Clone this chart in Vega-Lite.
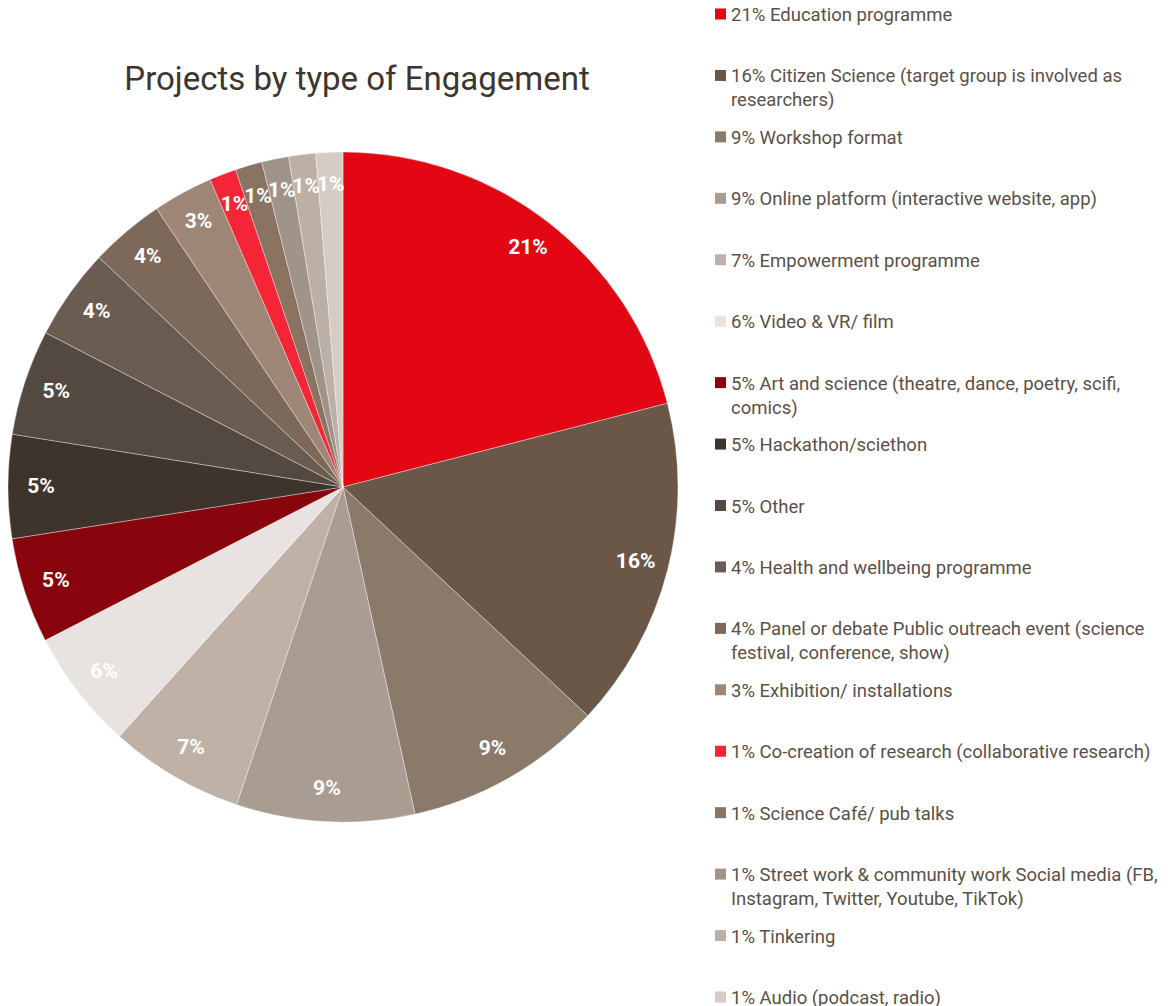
{
  "$schema": "https://vega.github.io/schema/vega-lite/v6.json",
  "padding": 0,
  "autosize": "pad",
  "background": "white",
  "config": {"view": {"stroke": null}, "concat": {"spacing": 0}},
  "datasets": {
    "d": [
      {"order": 1, "cat": "Education programme", "value": 21, "pct": "21%", "legend": "21% Education programme"},
      {"order": 2, "cat": "Citizen Science", "value": 16, "pct": "16%", "legend": "16% Citizen Science (target group is involved as\nresearchers)"},
      {"order": 3, "cat": "Workshop format", "value": 9.6, "pct": "9%", "legend": "9% Workshop format"},
      {"order": 4, "cat": "Online platform", "value": 8.6, "pct": "9%", "legend": "9% Online platform (interactive website, app)"},
      {"order": 5, "cat": "Empowerment programme", "value": 6.5, "pct": "7%", "legend": "7% Empowerment programme"},
      {"order": 6, "cat": "Video & VR/ film", "value": 5.8, "pct": "6%", "legend": "6% Video & VR/ film"},
      {"order": 7, "cat": "Art and science", "value": 5.1, "pct": "5%", "legend": "5% Art and science (theatre, dance, poetry, scifi,\ncomics)"},
      {"order": 8, "cat": "Hackathon/sciethon", "value": 5.0, "pct": "5%", "legend": "5% Hackathon/sciethon"},
      {"order": 9, "cat": "Other", "value": 5.1, "pct": "5%", "legend": "5% Other"},
      {"order": 10, "cat": "Health and wellbeing programme", "value": 4.4, "pct": "4%", "legend": "4% Health and wellbeing programme"},
      {"order": 11, "cat": "Panel or debate", "value": 3.6, "pct": "4%", "legend": "4% Panel or debate Public outreach event (science\nfestival, conference, show)"},
      {"order": 12, "cat": "Exhibition/ installations", "value": 2.9, "pct": "3%", "legend": "3% Exhibition/ installations"},
      {"order": 13, "cat": "Co-creation of research", "value": 1.3, "pct": "1%", "legend": "1% Co-creation of research (collaborative research)"},
      {"order": 14, "cat": "Science Café/ pub talks", "value": 1.3, "pct": "1%", "legend": "1% Science Café/ pub talks"},
      {"order": 15, "cat": "Street work", "value": 1.3, "pct": "1%", "legend": "1% Street work & community work Social media (FB,\nInstagram, Twitter, Youtube, TikTok)"},
      {"order": 16, "cat": "Tinkering", "value": 1.3, "pct": "1%", "legend": "1% Tinkering"},
      {"order": 17, "cat": "Audio", "value": 1.3, "pct": "1%", "legend": "1% Audio (podcast, radio)"}
    ]
  },
  "hconcat": [
    {
      "width": 686,
      "height": 974,
      "title": {"text": "Projects by type of Engagement", "font": "Roboto", "fontSize": 33, "fontWeight": "normal", "color": "#3d3530", "anchor": "middle", "baseline": "alphabetic", "offset": -123, "dx": 14},
      "data": {"name": "d"},
      "encoding": {
        "theta": {"field": "value", "type": "quantitative", "stack": true},
        "order": {"field": "order", "type": "quantitative"}
      },
      "layer": [
        {
          "mark": {"type": "arc", "outerRadius": 335, "stroke": "#ffffff", "strokeWidth": 0.6, "strokeOpacity": 0.6},
          "encoding": {
            "color": {
              "field": "cat", "type": "nominal", "legend": null,
              "scale": {
                "domain": ["Education programme", "Citizen Science", "Workshop format", "Online platform", "Empowerment programme", "Video & VR/ film", "Art and science", "Hackathon/sciethon", "Other", "Health and wellbeing programme", "Panel or debate", "Exhibition/ installations", "Co-creation of research", "Science Café/ pub talks", "Street work", "Tinkering", "Audio"],
                "range": ["#E30613", "#6A5748", "#8B7A6A", "#A99D92", "#BFB1A6", "#E8E3E0", "#88050E", "#3E342C", "#534940", "#6A5C51", "#7D6959", "#9E8676", "#F42536", "#8A7360", "#A09488", "#BCB0A6", "#D6CCC4"]
              }
            }
          }
        },
        {
          "mark": {"type": "text", "radius": 302, "font": "Roboto", "fontSize": 21, "fontWeight": "bold", "color": "#ffffff"},
          "encoding": {"text": {"field": "pct"}}
        }
      ]
    },
    {
      "width": 69,
      "height": 1011,
      "data": {"name": "d"},
      "encoding": {
        "y": {"field": "order", "type": "ordinal", "axis": null, "scale": {"type": "point", "padding": 0.228}}
      },
      "layer": [
        {
          "mark": {"type": "square", "size": 121, "filled": true, "opacity": 1},
          "encoding": {
            "color": {
              "field": "cat", "type": "nominal", "legend": null,
              "scale": {
                "domain": ["Education programme", "Citizen Science", "Workshop format", "Online platform", "Empowerment programme", "Video & VR/ film", "Art and science", "Hackathon/sciethon", "Other", "Health and wellbeing programme", "Panel or debate", "Exhibition/ installations", "Co-creation of research", "Science Café/ pub talks", "Street work", "Tinkering", "Audio"],
                "range": ["#E30613", "#6A5748", "#8B7A6A", "#A99D92", "#BFB1A6", "#E8E3E0", "#88050E", "#3E342C", "#534940", "#6A5C51", "#7D6959", "#9E8676", "#F42536", "#8A7360", "#A09488", "#BCB0A6", "#D6CCC4"]
              }
            }
          }
        },
        {
          "mark": {"type": "text", "align": "left", "baseline": "alphabetic", "dx": 10.5, "dy": 7, "font": "Roboto", "fontSize": 18.5, "lineHeight": 24, "lineBreak": "\n", "color": "#5a5048"},
          "encoding": {"text": {"field": "legend"}}
        }
      ]
    }
  ]
}
